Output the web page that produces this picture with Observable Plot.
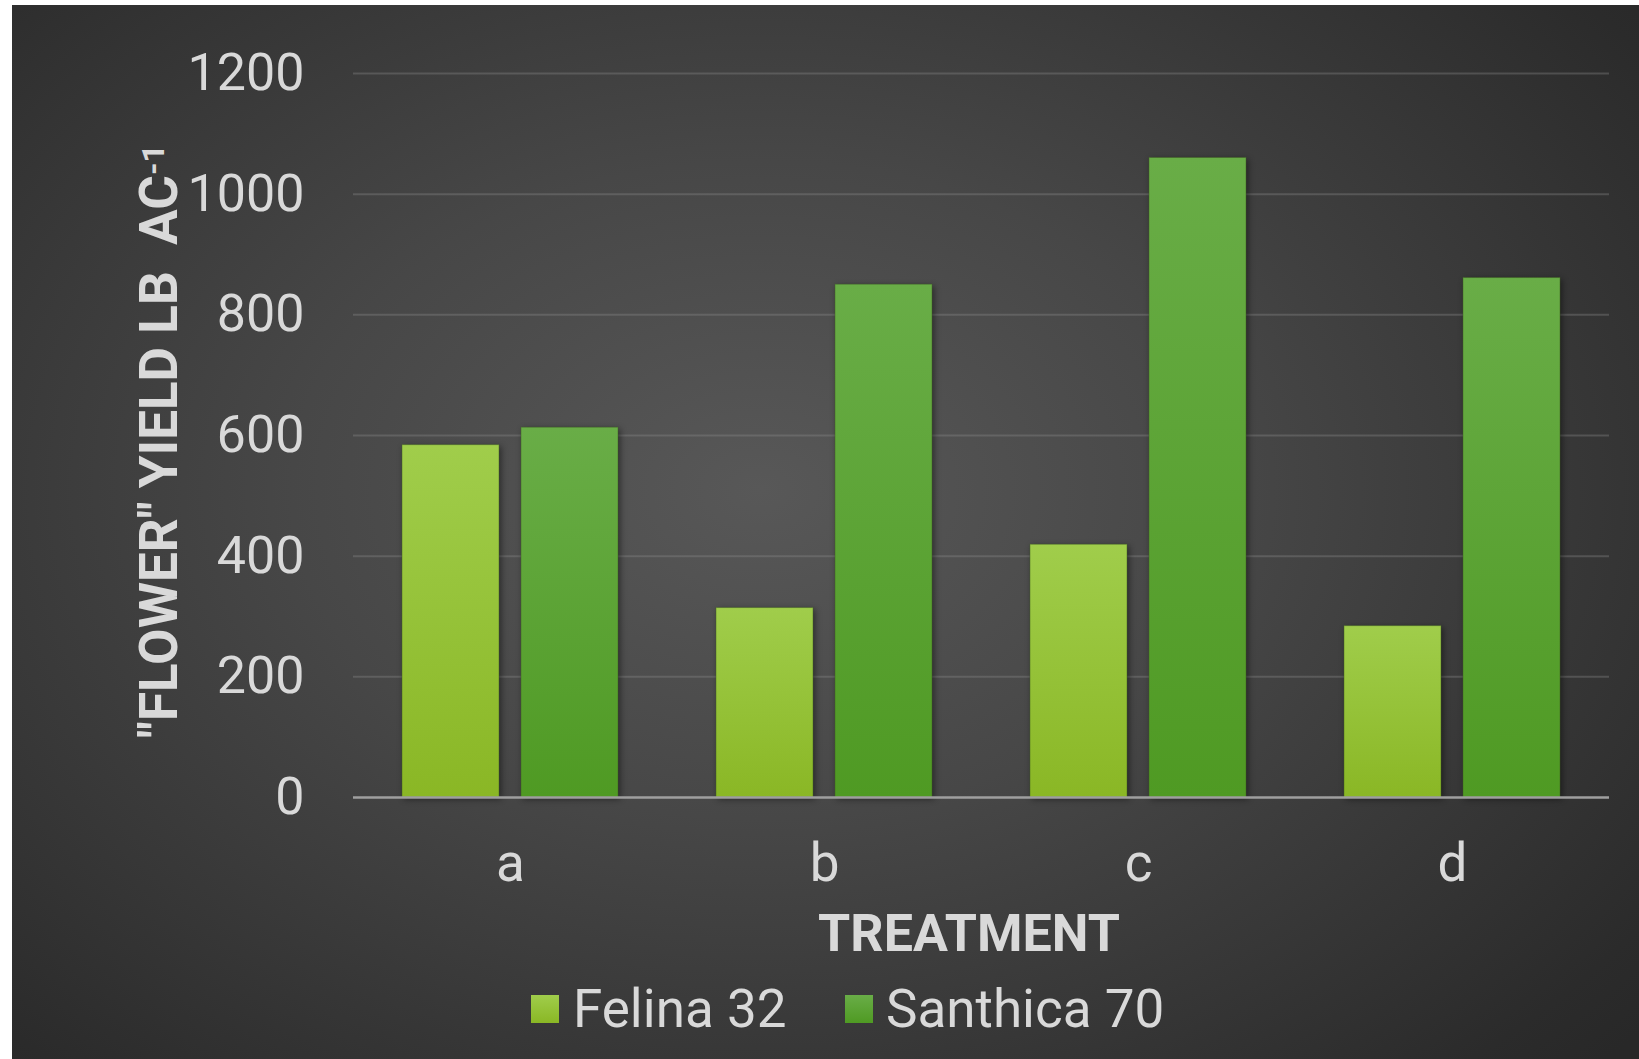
<!DOCTYPE html>
<html>
<head>
<meta charset="utf-8">
<script src="https://cdn.jsdelivr.net/npm/d3@7"></script>
<script src="https://cdn.jsdelivr.net/npm/@observablehq/plot@0.6"></script>
<style>
  html, body { margin: 0; padding: 0; background: #ffffff; }
  #frame {
    position: absolute; left: 12px; top: 5px; width: 1627px; height: 1054px;
    background: radial-gradient(ellipse 72% 78% at 46% 46%, #585858 0%, #474747 40%, #2b2b2b 92%, #282828 100%);
    overflow: hidden; font-family: Roboto, sans-serif;
  }
  #chart { position: absolute; left: 0; top: 0; }
  .lg-item { position: absolute; top: 978px; height: 53px; line-height: 53px; font-size: 53px; color: #d9d9d9; white-space: nowrap; font-family: Roboto, sans-serif; }
  .lg-sw { position: absolute; top: 990px; width: 28px; height: 28px; }
  #swF { background: linear-gradient(to bottom, #a0cd4b, #8ab725); }
  #swS { background: linear-gradient(to bottom, #69ad47, #4f9a23); }
</style>
</head>
<body>
<div id="frame">
  <div id="chart"></div>
  <div class="lg-sw" id="swF" style="left:519px"></div>
  <div class="lg-item" id="lgF" style="left:561px"></div>
  <div class="lg-sw" id="swS" style="left:833px"></div>
  <div class="lg-item" id="lgS" style="left:874px"></div>
</div>
<script>
const treatments = ["a", "b", "c", "d"];
const varieties = ["Felina 32", "Santhica 70"];
const felina = [584, 314, 419, 284];
const santhica = [613, 850, 1060, 861];
const yTicks = [0, 200, 400, 600, 800, 1000, 1200];
const xTitle = "TREATMENT";
const yTitle = "\"FLOWER\" YIELD LB  AC";
const yTitleSup = "-1";

const rows = [];
treatments.forEach((t, i) => {
  rows.push({treatment: t, variety: varieties[0], value: felina[i]});
  rows.push({treatment: t, variety: varieties[1], value: santhica[i]});
});

const chart = Plot.plot({
  width: 1627,
  height: 975,
  marginLeft: 340,
  marginRight: 30,
  marginTop: 68,
  marginBottom: 183,
  style: {background: "transparent", color: "#d9d9d9", fontFamily: "Roboto, sans-serif", overflow: "visible"},
  fx: {domain: treatments, padding: 0},
  x: {domain: varieties, paddingInner: 0.184, paddingOuter: 0.407, axis: null},
  y: {domain: [0, 1200], ticks: yTicks},
  color: {domain: varieties, range: ["url(#gradF)", "url(#gradS)"]},
  marks: [
    Plot.ruleY(yTicks.slice(1), {stroke: "#8c8c8c", strokeOpacity: 0.35, strokeWidth: 2}),
    Plot.barY(rows, {fx: "treatment", x: "variety", y: "value", fill: "variety",
      stroke: "#3e5e22", strokeOpacity: 0.45, strokeWidth: 1}),
    Plot.ruleY([0], {stroke: "#9f9f9f", strokeWidth: 2.5}),
    Plot.axisY({ticks: yTicks, tickFormat: d3.format("d"), tickSize: 0, tickPadding: 49, fontSize: 52, label: null, fill: "#d9d9d9"}),
    Plot.axisFx({anchor: "bottom", tickSize: 0, tickPadding: 46, fontSize: 53, label: null, fill: "#d9d9d9"})
  ]
});

const svg = d3.select(chart);
const defs = svg.insert("defs", ":first-child");
const g1 = defs.append("linearGradient").attr("id", "gradF").attr("x1", 0).attr("y1", 0).attr("x2", 0).attr("y2", 1);
g1.append("stop").attr("offset", "0%").attr("stop-color", "#a0cd4b");
g1.append("stop").attr("offset", "100%").attr("stop-color", "#8ab725");
const g2 = defs.append("linearGradient").attr("id", "gradS").attr("x1", 0).attr("y1", 0).attr("x2", 0).attr("y2", 1);
g2.append("stop").attr("offset", "0%").attr("stop-color", "#69ad47");
g2.append("stop").attr("offset", "100%").attr("stop-color", "#4f9a23");

svg.selectAll("g[aria-label='bar'] rect").style("filter", "drop-shadow(2px 2px 3px rgba(0,0,0,0.45))");

svg.append("text")
  .attr("x", 957).attr("y", 946)
  .attr("text-anchor", "middle")
  .attr("fill", "#d9d9d9")
  .style("font", "bold 52px Roboto, sans-serif")
  .text(xTitle);

const yt = svg.append("text")
  .attr("transform", "translate(165,436) rotate(-90)")
  .attr("text-anchor", "middle")
  .attr("fill", "#d9d9d9")
  .style("font", "bold 53px Roboto, sans-serif")
  .style("white-space", "pre");
yt.append("tspan").text(yTitle);
yt.append("tspan").attr("dy", "-0.42em").style("font-size", "32px").text(yTitleSup);

document.getElementById("chart").appendChild(chart);
document.getElementById("lgF").textContent = varieties[0];
document.getElementById("lgS").textContent = varieties[1];
</script>
</body>
</html>
